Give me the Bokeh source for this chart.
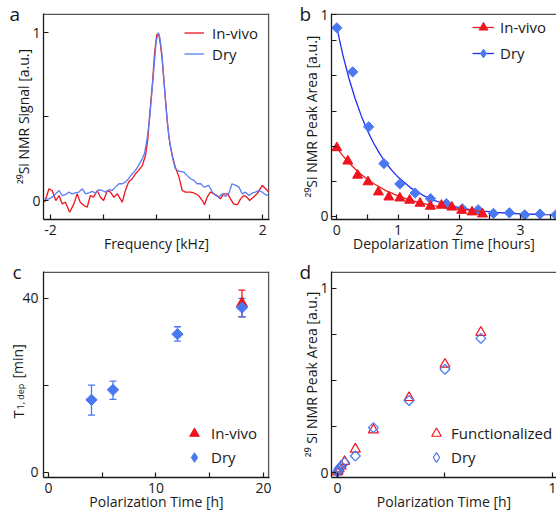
from math import pi
from bokeh.plotting import figure
from bokeh.models import (Range1d, FixedTicker, Legend, LegendItem, Title,
                          Whisker, TeeHead, ColumnDataSource)
from bokeh.layouts import column, row
from bokeh.embed import file_html
from bokeh.resources import INLINE

NAN = float("nan")

# ---------------- data ----------------
# panel a: 29Si NMR spectra
a_red_f = [-2.11, -2.03, -1.97, -1.90, -1.84, -1.78, -1.72, -1.64, -1.56, -1.50,
           -1.44, -1.37, -1.31, -1.25, -1.19, -1.12, -1.06, -1.00, -0.93, -0.87,
           -0.81, -0.74, -0.65, -0.59, -0.53, -0.46, -0.40, -0.34, -0.27, -0.21,
           -0.17, -0.13, -0.08, -0.04, 0.00, 0.04, 0.07, 0.10, 0.14, 0.17,
           0.20, 0.23, 0.26, 0.30, 0.35, 0.42,
           0.48, 0.54, 0.64, 0.70, 0.79, 0.86, 0.90, 0.95, 1.01, 1.08,
           1.14, 1.20, 1.26, 1.34, 1.39, 1.45, 1.52, 1.58, 1.64, 1.70,
           1.75, 1.82, 1.89, 1.99, 2.05, 2.11]
a_red_v = [-0.01, 0.07, 0.06, 0.00, 0.03, -0.02, -0.01, -0.07, -0.02, 0.04,
           -0.01, -0.03, -0.04, 0.03, 0.02, 0.06, 0.02, 0.00, 0.06, 0.05,
           0.02, 0.04, -0.01, 0.06, 0.11, 0.13, 0.16, 0.18, 0.21, 0.27,
           0.36, 0.52, 0.70, 0.88, 0.99, 0.99, 0.93, 0.85, 0.70, 0.58,
           0.47, 0.38, 0.32, 0.26, 0.20, 0.14,
           0.06, 0.05, 0.05, 0.045, 0.03, 0.00, -0.025, 0.02, 0.05, 0.04,
           0.03, 0.01, 0.04, 0.04, 0.01, -0.02, -0.025, 0.01, 0.03, 0.02,
           0.00, 0.02, 0.04, 0.09, 0.07, 0.05]
a_blue_f = [-2.11, -2.03, -1.97, -1.90, -1.84, -1.78, -1.72, -1.66, -1.59, -1.53,
            -1.47, -1.40, -1.34, -1.28, -1.22, -1.15, -1.09, -1.03, -0.96, -0.90,
            -0.84, -0.78, -0.71, -0.65, -0.59, -0.53, -0.46, -0.40, -0.34, -0.27,
            -0.23, -0.18, -0.13, -0.09, -0.05, -0.01, 0.03, 0.06, 0.10, 0.14,
            0.17, 0.20, 0.23, 0.27, 0.31, 0.35,
            0.42, 0.51, 0.57, 0.64, 0.70, 0.76, 0.83, 0.89, 0.98, 1.05,
            1.11, 1.17, 1.23, 1.30, 1.36, 1.42, 1.49, 1.55, 1.61, 1.67,
            1.74, 1.80, 1.86, 1.92, 1.99, 2.05, 2.11]
a_blue_v = [0.01, 0.01, 0.02, 0.04, 0.06, 0.03, 0.035, 0.05, 0.04, 0.045,
            0.05, 0.07, 0.04, 0.045, 0.055, 0.045, 0.065, 0.06, 0.05, 0.065,
            0.06, 0.08, 0.10, 0.10, 0.11, 0.13, 0.16, 0.18, 0.21, 0.25,
            0.28, 0.37, 0.50, 0.65, 0.80, 0.95, 1.00, 0.97, 0.87, 0.70,
            0.58, 0.47, 0.38, 0.30, 0.24, 0.19,
            0.175, 0.17, 0.15, 0.13, 0.12, 0.10, 0.10, 0.08, 0.09, 0.05,
            0.03, 0.02, 0.04, 0.025, 0.045, 0.10, 0.09, 0.08, 0.04, 0.05,
            0.03, 0.045, 0.05, 0.06, 0.05, 0.035, 0.03]

# panel b: depolarization
b_viv_t = [0.00, 0.18, 0.34, 0.51, 0.68, 0.85, 1.03, 1.19, 1.36, 1.53, 1.71, 1.88, 2.04, 2.21, 2.38]
b_viv_y = [0.340, 0.274, 0.204, 0.171, 0.121, 0.096, 0.091, 0.080, 0.065, 0.050, 0.055, 0.046, 0.030, 0.022, 0.012]
b_dry_t = [0.00, 0.26, 0.52, 0.77, 1.03, 1.28, 1.53, 1.79, 2.05, 2.31, 2.56, 2.82, 3.07, 3.32, 3.58]
b_dry_y = [0.934, 0.716, 0.444, 0.262, 0.161, 0.116, 0.088, 0.063, 0.038, 0.033, 0.015, 0.018, 0.008, 0.012, 0.008]
# fitted decay curves
b_fit_viv_t = [0.0, 0.1, 0.2, 0.3, 0.4, 0.5, 0.6, 0.8, 1.0, 1.2, 1.4, 1.6, 1.8, 2.0, 2.2, 2.4]
b_fit_viv_y = [0.340, 0.300, 0.265, 0.235, 0.208, 0.184, 0.163, 0.128, 0.102, 0.081, 0.065, 0.052, 0.043, 0.035, 0.030, 0.025]
b_fit_dry_t = [0.0, 0.1, 0.2, 0.3, 0.4, 0.5, 0.6, 0.7, 0.8, 0.9, 1.0, 1.2, 1.4, 1.6, 1.8,
               2.0, 2.2, 2.4, 2.6, 2.8, 3.0, 3.2, 3.4, 3.6]
b_fit_dry_y = [0.935, 0.798, 0.682, 0.583, 0.498, 0.426, 0.364, 0.311, 0.266, 0.228, 0.195,
               0.143, 0.106, 0.078, 0.058, 0.044, 0.033, 0.026, 0.020, 0.016, 0.013, 0.011,
               0.009, 0.008]

# panel c: T1,dep vs polarization time
c_dry_x = [4, 6, 12, 18]
c_dry_y = [16.7, 19.0, 31.8, 37.9]
c_dry_lo = [13.2, 16.8, 30.2, 35.8]
c_dry_hi = [20.1, 21.0, 33.5, 40.0]
c_viv_x = [18]
c_viv_y = [38.9]
c_viv_lo = [35.8]
c_viv_hi = [41.9]

# panel d: buildup
d_t = [0.667, 0.500, 0.333, 0.167, 0.083, 0.033, 0.017, 0.008, 0.003, 0.000]
d_func = [0.761, 0.588, 0.407, 0.231, 0.127, 0.060, 0.035, 0.020, 0.010, 0.003]
d_dry = [0.729, 0.561, 0.391, 0.244, 0.090, 0.054, 0.035, 0.022, 0.010, 0.002]

# ---------------- style ----------------
FONT = "Open Sans"
AX = "#1a1a1a"
FRAME = "#555555"
RED = "#f0141e"
BLUE_A = "#5a7df5"
BLUE = "#4a78f0"
FIT_BLUE = "#1e2ef0"
FIT_RED = "#f02020"
FRAME_H = 206          # plot-area height in px
FRAME_W = {"a": 226, "b": 225}


def make_fig(w, h, xr, yr, bl, br, bt, bb):
    p = figure(width=w, height=h, x_range=Range1d(*xr), y_range=Range1d(*yr),
               output_backend="svg", toolbar_location=None,
               min_border_left=bl, min_border_right=br, min_border_top=bt, min_border_bottom=bb)
    p.grid.visible = False
    p.outline_line_color = None
    xa, ya = p.xaxis[0], p.yaxis[0]
    for ax in (xa, ya):
        ax.axis_line_color = AX
        ax.axis_line_width = 1.3
        ax.major_tick_line_color = AX
        ax.major_tick_line_width = 1.2
        ax.major_tick_in = 5
        ax.major_tick_out = 0
        ax.minor_tick_line_color = None
        ax.major_label_text_font = FONT
        ax.major_label_text_font_size = "14px"
        ax.major_label_text_color = AX
        ax.axis_label_text_font = FONT
        ax.axis_label_text_font_size = "14px"
        ax.axis_label_text_font_style = "normal"
        ax.axis_label_text_color = AX
    xa.major_label_standoff = 5
    xa.axis_label_standoff = -4
    ya.major_label_standoff = 3
    ya.axis_label_standoff = -4
    return p, xa, ya


def add_frame(p, xr, yr, frame_w, right=True):
    # thin grey box lines along the top (and right) edge of the plot area
    ytop = yr[1] - (yr[1] - yr[0]) * 0.8 / FRAME_H
    p.line([xr[0], xr[1]], [ytop, ytop], line_color=FRAME, line_width=1.5)
    if right:
        xrt = xr[1] - (xr[1] - xr[0]) * 0.8 / frame_w
        p.line([xrt, xrt], [yr[0], yr[1]], line_color=FRAME, line_width=1.5)


def set_ticks(ax, ticks, labels):
    ax.ticker = FixedTicker(ticks=ticks)
    ax.major_label_overrides = {t: labels.get(t, "") for t in ticks}


def letter(p, txt, offset):
    p.title.text = txt
    p.title.align = "left"
    p.title.offset = offset
    p.title.standoff = -27
    p.title.vertical_align = "bottom"
    p.title.text_font = FONT
    p.title.text_font_size = "19px"
    p.title.text_font_style = "normal"
    p.title.text_color = AX


def legend(p, items, loc, gw, gh, spacing, standoff):
    lg = Legend(items=items, location=loc, glyph_width=gw, glyph_height=gh, spacing=spacing,
                label_standoff=standoff, label_height=10, padding=0, margin=0,
                border_line_color=None, background_fill_alpha=0,
                label_text_font=FONT, label_text_font_size="15px", label_text_color=AX)
    p.add_layout(lg)


# ---------------- panel a ----------------
XR_A, YR_A = (-2.133, 2.125), (-0.113, 1.115)
pa, xa, ya = make_fig(278, 258, XR_A, YR_A, 43, 9, 13, 39)
set_ticks(xa, [-2, -1, 0, 1, 2], {-2: "-2", 2: "2"})
set_ticks(ya, [0, 0.5, 1], {0: "0", 1: "1"})
xa.axis_label = "Frequency [kHz]"
ya.axis_label = "²⁹Si NMR Signal [a.u.]"
add_frame(pa, XR_A, YR_A, FRAME_W["a"])
ra = pa.line(a_red_f, a_red_v, line_color=RED, line_width=1.3)
ba = pa.line(a_blue_f, a_blue_v, line_color=BLUE_A, line_width=1.3)
legend(pa, [LegendItem(label="In-vivo", renderers=[ra]), LegendItem(label="Dry", renderers=[ba])],
       (141, 155), 20, 21, 0, 8)
letter(pa, "a", -34)

# ---------------- panel b ----------------
XR_B, YR_B = (-0.087, 3.59), (-0.015, 1.005)
pb, xb, yb = make_fig(278, 258, XR_B, YR_B, 53, 0, 13, 39)
set_ticks(xb, [0, 0.5, 1, 1.5, 2, 2.5, 3, 3.5], {0: "0", 1: "1", 2: "2", 3: "3"})
set_ticks(yb, [0, 0.174, 0.348, 0.522, 0.696, 0.870, 1.0], {0: "0", 1.0: "1"})
xb.axis_label = "Depolarization Time [hours]"
yb.axis_label = "²⁹Si NMR Peak Area [a.u.]"
add_frame(pb, XR_B, YR_B, FRAME_W["b"], right=False)
fb = pb.line(b_fit_dry_t, b_fit_dry_y, line_color=FIT_BLUE, line_width=1.3)
db = pb.scatter(b_dry_t, b_dry_y, marker="square", angle=pi / 4, size=7.3,
                fill_color=BLUE, line_color=BLUE)
fr = pb.line(b_fit_viv_t, b_fit_viv_y, line_color=FIT_RED, line_width=1.3)
vb = pb.scatter(b_viv_t, b_viv_y, marker="triangle", size=10, fill_color=RED, line_color=RED)
leg_dry_b = pb.scatter(x=[NAN], y=[NAN], marker="diamond", fill_color=BLUE, line_color=BLUE)
legend(pb, [LegendItem(label="In-vivo", renderers=[fr, vb]),
            LegendItem(label="Dry", renderers=[fb, leg_dry_b])],
       (141, 153), 22, 26, -3, 6)
letter(pb, "b", -32)

# ---------------- panel c ----------------
XR_C, YR_C = (-0.465, 20.56), (-1.15, 46.2)
pc, xc, yc = make_fig(278, 259, XR_C, YR_C, 43, 9, 13, 40)
set_ticks(xc, [0, 5, 10, 15, 20], {0: "0", 10: "10", 20: "20"})
set_ticks(yc, [0, 20, 40], {0: "0", 40: "40"})
yc.major_label_standoff = 5
xc.axis_label = "Polarization Time [h]"
add_frame(pc, XR_C, YR_C, FRAME_W["a"])
src_cv = ColumnDataSource(dict(x=c_viv_x, lo=c_viv_lo, hi=c_viv_hi))
src_cd = ColumnDataSource(dict(x=c_dry_x, lo=c_dry_lo, hi=c_dry_hi))
pc.add_layout(Whisker(base="x", lower="lo", upper="hi", source=src_cv, dimension="height",
                      line_color=RED, line_width=1.3,
                      upper_head=TeeHead(size=7, line_color=RED, line_width=1.3),
                      lower_head=TeeHead(size=7, line_color=RED, line_width=1.3)))
vc = pc.scatter(c_viv_x, c_viv_y, marker="triangle", size=11, fill_color=RED, line_color=RED)
pc.add_layout(Whisker(base="x", lower="lo", upper="hi", source=src_cd, dimension="height",
                      line_color=BLUE, line_width=1.3,
                      upper_head=TeeHead(size=7, line_color=BLUE, line_width=1.3),
                      lower_head=TeeHead(size=7, line_color=BLUE, line_width=1.3)))
dc = pc.scatter(c_dry_x, c_dry_y, marker="square", angle=pi / 4, size=8,
                fill_color=BLUE, line_color=BLUE)
leg_dry_c = pc.scatter(x=[NAN], y=[NAN], marker="diamond", fill_color=BLUE, line_color=BLUE)
legend(pc, [LegendItem(label="In-vivo", renderers=[vc]),
            LegendItem(label="Dry", renderers=[leg_dry_c])],
       (139, 8), 24, 24, -4, 5)
letter(pc, "c", -31)
# y-axis title "T_{1, dep} [min]" built from side titles
for txt, fs, off, va, so in [("1, dep", "9px", 68, "bottom", -14),
                             ("T", "15px", 59, "top", -22),
                             ("[min]", "14px", 99, "top", -21)]:
    pc.add_layout(Title(text=txt, align="left", offset=off, vertical_align=va, standoff=so,
                        text_font=FONT, text_font_size=fs, text_font_style="normal",
                        text_color=AX), "left")

# ---------------- panel d ----------------
XR_D, YR_D = (-0.028, 1.019), (-0.027, 1.092)
pd_, xd, yd = make_fig(278, 259, XR_D, YR_D, 53, 0, 13, 40)
set_ticks(xd, [0, 0.5, 1], {0: "0", 1: "1"})
set_ticks(yd, [0, 0.25, 0.5, 0.75, 1], {0: "0", 1: "1"})
xd.axis_label = "Polarization Time [h]"
yd.axis_label = "²⁹ Si NMR Peak Area [a.u.]"
add_frame(pd_, XR_D, YR_D, FRAME_W["b"], right=False)
fd = pd_.scatter(d_t, d_func, marker="triangle", size=10, fill_color=None,
                 line_color=RED, line_width=1.2)
dd = pd_.scatter(d_t, d_dry, marker="square", angle=pi / 4, size=7, fill_color=None,
                 line_color=BLUE, line_width=1.2)
leg_dry_d = pd_.scatter(x=[NAN], y=[NAN], marker="diamond", fill_color=None,
                        line_color=BLUE, line_width=1.2)
legend(pd_, [LegendItem(label="Functionalized", renderers=[fd]),
             LegendItem(label="Dry", renderers=[leg_dry_d])],
       (93, 8), 24, 24, -4, 3)
letter(pd_, "d", -32)

layout = column(row(pa, pb), row(pc, pd_))
open("out.html", "w").write(file_html(layout, INLINE))
